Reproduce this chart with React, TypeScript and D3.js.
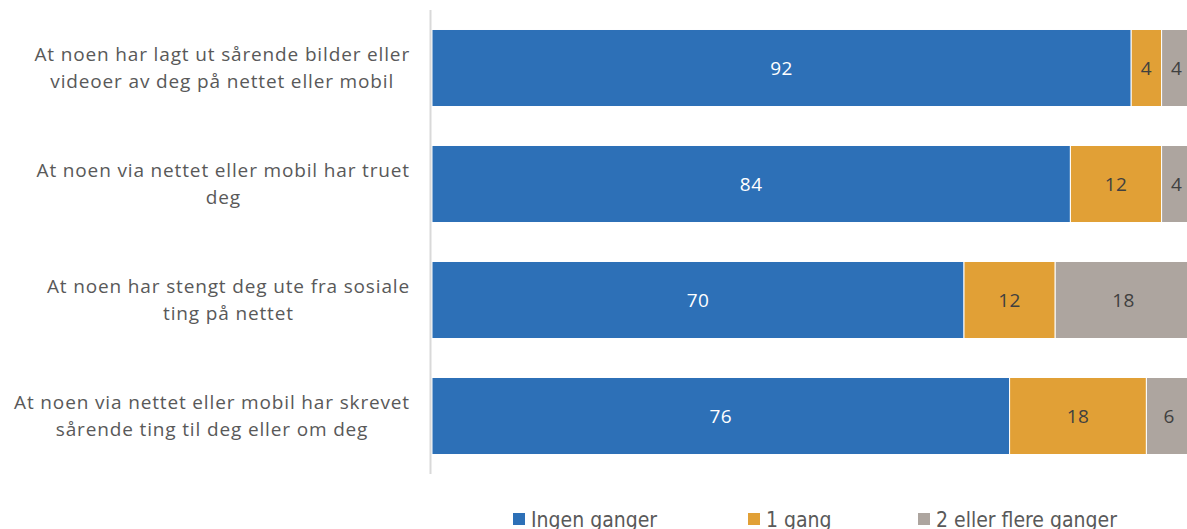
import React, { useEffect, useRef } from "react";
import * as d3 from "d3";

const categories: string[][] = [
  ["At noen har lagt ut sårende bilder eller", "videoer av deg på nettet eller mobil"],
  ["At noen via nettet eller mobil har truet", "deg"],
  ["At noen har stengt deg ute fra sosiale", "ting på nettet"],
  ["At noen via nettet eller mobil har skrevet", "sårende ting til deg eller om deg"],
];
const seriesNames = ["Ingen ganger", "1 gang", "2 eller flere ganger"];
const ingenGanger = [92, 84, 70, 76];
const enGang = [4, 12, 12, 18];
const toEllerFlere = [4, 4, 18, 6];

const colors = ["#2d70b7", "#e1a036", "#ada59f"];
const labelColors = ["#ffffff", "#404040", "#404040"];
const W = 1187;
const H = 529;
const FONT = "'Open Sans', sans-serif";
const LEG_FONT = "'Liberation Sans Narrow', 'DejaVu Sans Condensed', 'Roboto', sans-serif";

export default function App() {
  const ref = useRef<SVGSVGElement>(null);
  useEffect(() => {
    const svg = d3.select(ref.current);
    svg.selectAll("*").remove();
    const x = d3.scaleLinear().domain([0, 100]).range([432, 1192]);
    const y = d3
      .scaleBand<number>()
      .domain(d3.range(categories.length))
      .range([10, 474])
      .paddingInner(0.336)
      .paddingOuter(0.168);
    const seriesVals = [ingenGanger, enGang, toEllerFlere];
    const rows = categories.map((_, i) => ({
      i,
      v0: seriesVals[0][i],
      v1: seriesVals[1][i],
      v2: seriesVals[2][i],
    }));
    const stack = d3.stack<any>().keys(["v0", "v1", "v2"])(rows);

    const g = svg.append("g");
    stack.forEach((layer, si) => {
      layer.forEach((d: any) => {
        const i = d.data.i;
        const x0 = x(d[0]);
        const x1 = x(d[1]);
        g.append("rect")
          .attr("x", x0)
          .attr("y", y(i)!)
          .attr("width", x1 - x0)
          .attr("height", y.bandwidth())
          .attr("fill", colors[si])
          .attr("stroke", "#ffffff")
          .attr("stroke-width", 1);
        g.append("text")
          .attr("x", (x0 + x1) / 2)
          .attr("y", y(i)! + y.bandwidth() / 2)
          .attr("dy", "0.35em")
          .attr("text-anchor", "middle")
          .attr("font-family", FONT)
          .attr("font-size", 19)
          .attr("letter-spacing", 0.5)
          .attr("fill", labelColors[si])
          .text(String(d[1] - d[0]));
      });
    });

    // axis line
    svg
      .append("line")
      .attr("x1", 430.5)
      .attr("x2", 430.5)
      .attr("y1", 10)
      .attr("y2", 474)
      .attr("stroke", "#d9d9d9")
      .attr("stroke-width", 2);

    // category labels
    categories.forEach((lines, i) => {
      const cy = y(i)! + y.bandwidth() / 2;
      const lh = 27;
      const texts = lines.map((ln, k) =>
        svg
          .append("text")
          .attr("y", cy + (k - (lines.length - 1) / 2) * lh)
          .attr("dy", "0.35em")
          .attr("text-anchor", "middle")
          .attr("font-family", FONT)
          .attr("font-size", 19)
          .attr("letter-spacing", 0.85)
          .attr("fill", "#595959")
          .text(ln)
      );
      const maxW = d3.max(texts, (t) => (t.node() as SVGTextElement).getComputedTextLength()) || 0;
      texts.forEach((t) => t.attr("x", 410 - maxW / 2));
    });

    // legend
    const legX = [513, 748, 918];
    seriesNames.forEach((name, si) => {
      svg
        .append("rect")
        .attr("x", legX[si])
        .attr("y", 513)
        .attr("width", 12)
        .attr("height", 12)
        .attr("fill", colors[si]);
      svg
        .append("text")
        .attr("x", legX[si] + 18)
        .attr("y", 527)
        .attr("font-family", LEG_FONT)
        .attr("font-size", 21)
        .attr("fill", "#595959")
        .text(name);
    });
  }, []);
  return <svg ref={ref} width={W} height={H} style={{ display: "block", position: "absolute", left: 0, top: 0 }} />;
}
